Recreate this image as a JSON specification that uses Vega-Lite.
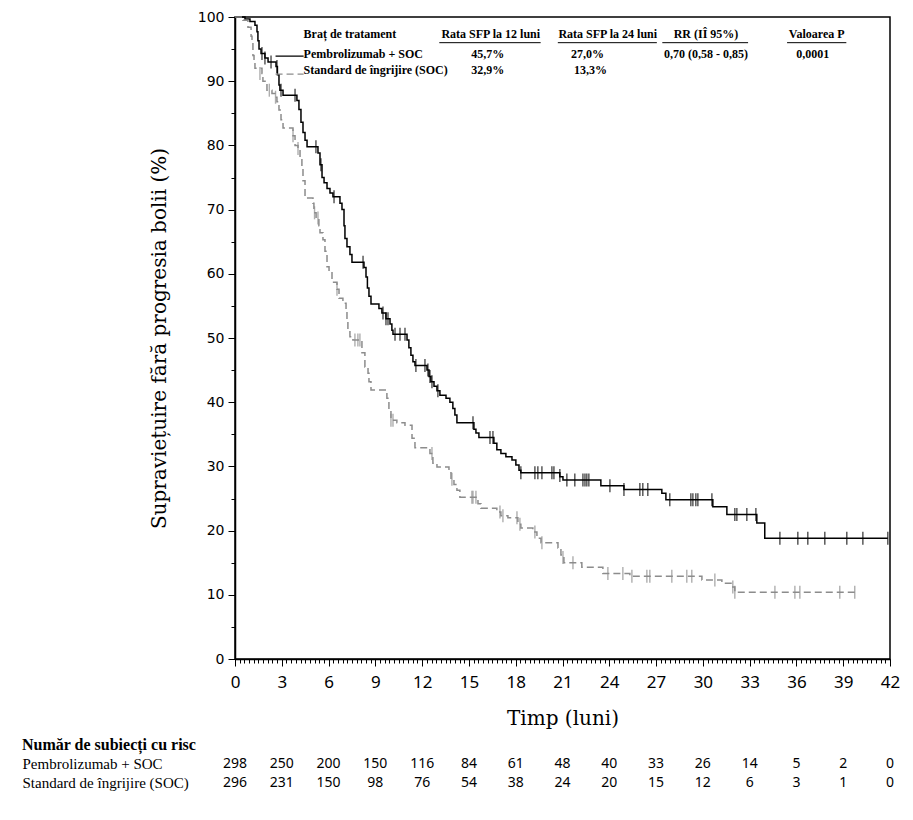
{
  "$schema": "https://vega.github.io/schema/vega-lite/v6.json",
  "background": "white",
  "padding": {"left": 22, "top": 9, "right": 12, "bottom": 10},
  "spacing": 8,
  "config": {"axis": {"labelColor": "black", "titleColor": "black", "domainColor": "black", "tickColor": "black"}},
  "resolve": {"scale": {"x": "independent", "y": "independent"}},
  "datasets": {
    "curves": [
      {"arm": "Pembrolizumab + SOC", "t": 0, "s": 100},
      {"arm": "Pembrolizumab + SOC", "t": 0.64, "s": 99.7},
      {"arm": "Pembrolizumab + SOC", "t": 0.96, "s": 99.3},
      {"arm": "Pembrolizumab + SOC", "t": 1.28, "s": 98.7},
      {"arm": "Pembrolizumab + SOC", "t": 1.41, "s": 97.7},
      {"arm": "Pembrolizumab + SOC", "t": 1.47, "s": 96.3},
      {"arm": "Pembrolizumab + SOC", "t": 1.54, "s": 95.0},
      {"arm": "Pembrolizumab + SOC", "t": 1.67, "s": 94.3},
      {"arm": "Pembrolizumab + SOC", "t": 1.92, "s": 93.6},
      {"arm": "Pembrolizumab + SOC", "t": 2.12, "s": 93.0},
      {"arm": "Pembrolizumab + SOC", "t": 2.63, "s": 92.3},
      {"arm": "Pembrolizumab + SOC", "t": 2.72, "s": 91.0},
      {"arm": "Pembrolizumab + SOC", "t": 2.82, "s": 89.4},
      {"arm": "Pembrolizumab + SOC", "t": 2.88, "s": 88.6},
      {"arm": "Pembrolizumab + SOC", "t": 3.08, "s": 87.8},
      {"arm": "Pembrolizumab + SOC", "t": 3.97, "s": 87.0},
      {"arm": "Pembrolizumab + SOC", "t": 4.10, "s": 85.6},
      {"arm": "Pembrolizumab + SOC", "t": 4.23, "s": 83.6},
      {"arm": "Pembrolizumab + SOC", "t": 4.36, "s": 82.0},
      {"arm": "Pembrolizumab + SOC", "t": 4.49, "s": 80.8},
      {"arm": "Pembrolizumab + SOC", "t": 4.62, "s": 79.8},
      {"arm": "Pembrolizumab + SOC", "t": 5.32, "s": 78.8},
      {"arm": "Pembrolizumab + SOC", "t": 5.45, "s": 77.0},
      {"arm": "Pembrolizumab + SOC", "t": 5.58, "s": 75.0},
      {"arm": "Pembrolizumab + SOC", "t": 5.71, "s": 74.2},
      {"arm": "Pembrolizumab + SOC", "t": 5.90, "s": 73.3},
      {"arm": "Pembrolizumab + SOC", "t": 6.09, "s": 72.6},
      {"arm": "Pembrolizumab + SOC", "t": 6.28, "s": 72.0},
      {"arm": "Pembrolizumab + SOC", "t": 6.73, "s": 71.0},
      {"arm": "Pembrolizumab + SOC", "t": 6.86, "s": 70.0},
      {"arm": "Pembrolizumab + SOC", "t": 6.99, "s": 67.5},
      {"arm": "Pembrolizumab + SOC", "t": 7.05, "s": 65.5},
      {"arm": "Pembrolizumab + SOC", "t": 7.18, "s": 64.2},
      {"arm": "Pembrolizumab + SOC", "t": 7.37, "s": 63.0},
      {"arm": "Pembrolizumab + SOC", "t": 7.50, "s": 61.8},
      {"arm": "Pembrolizumab + SOC", "t": 8.27, "s": 61.0},
      {"arm": "Pembrolizumab + SOC", "t": 8.40, "s": 59.5},
      {"arm": "Pembrolizumab + SOC", "t": 8.49, "s": 57.8},
      {"arm": "Pembrolizumab + SOC", "t": 8.59, "s": 56.5},
      {"arm": "Pembrolizumab + SOC", "t": 8.72, "s": 55.3},
      {"arm": "Pembrolizumab + SOC", "t": 9.23, "s": 54.6},
      {"arm": "Pembrolizumab + SOC", "t": 9.42, "s": 53.9},
      {"arm": "Pembrolizumab + SOC", "t": 9.68, "s": 53.0},
      {"arm": "Pembrolizumab + SOC", "t": 9.94, "s": 52.2},
      {"arm": "Pembrolizumab + SOC", "t": 10.06, "s": 51.2},
      {"arm": "Pembrolizumab + SOC", "t": 10.13, "s": 50.6},
      {"arm": "Pembrolizumab + SOC", "t": 11.03, "s": 49.7},
      {"arm": "Pembrolizumab + SOC", "t": 11.15, "s": 48.5},
      {"arm": "Pembrolizumab + SOC", "t": 11.28, "s": 47.3},
      {"arm": "Pembrolizumab + SOC", "t": 11.41, "s": 46.3},
      {"arm": "Pembrolizumab + SOC", "t": 11.54, "s": 45.7},
      {"arm": "Pembrolizumab + SOC", "t": 12.31, "s": 45.0},
      {"arm": "Pembrolizumab + SOC", "t": 12.44, "s": 44.0},
      {"arm": "Pembrolizumab + SOC", "t": 12.56, "s": 43.2},
      {"arm": "Pembrolizumab + SOC", "t": 12.76, "s": 42.5},
      {"arm": "Pembrolizumab + SOC", "t": 12.95, "s": 41.8},
      {"arm": "Pembrolizumab + SOC", "t": 13.14, "s": 41.1},
      {"arm": "Pembrolizumab + SOC", "t": 13.53, "s": 40.6},
      {"arm": "Pembrolizumab + SOC", "t": 13.78, "s": 40.0},
      {"arm": "Pembrolizumab + SOC", "t": 13.97, "s": 39.0},
      {"arm": "Pembrolizumab + SOC", "t": 14.10, "s": 38.0},
      {"arm": "Pembrolizumab + SOC", "t": 14.23, "s": 36.8},
      {"arm": "Pembrolizumab + SOC", "t": 15.32, "s": 35.8},
      {"arm": "Pembrolizumab + SOC", "t": 15.45, "s": 35.2},
      {"arm": "Pembrolizumab + SOC", "t": 15.64, "s": 34.5},
      {"arm": "Pembrolizumab + SOC", "t": 16.60, "s": 33.6},
      {"arm": "Pembrolizumab + SOC", "t": 16.79, "s": 32.6},
      {"arm": "Pembrolizumab + SOC", "t": 17.05, "s": 32.0},
      {"arm": "Pembrolizumab + SOC", "t": 17.37, "s": 31.5},
      {"arm": "Pembrolizumab + SOC", "t": 17.76, "s": 31.0},
      {"arm": "Pembrolizumab + SOC", "t": 18.01, "s": 30.2},
      {"arm": "Pembrolizumab + SOC", "t": 18.21, "s": 29.4},
      {"arm": "Pembrolizumab + SOC", "t": 18.33, "s": 29.0},
      {"arm": "Pembrolizumab + SOC", "t": 20.83, "s": 28.4},
      {"arm": "Pembrolizumab + SOC", "t": 21.03, "s": 27.9},
      {"arm": "Pembrolizumab + SOC", "t": 23.46, "s": 27.0},
      {"arm": "Pembrolizumab + SOC", "t": 24.94, "s": 26.4},
      {"arm": "Pembrolizumab + SOC", "t": 27.37, "s": 25.8},
      {"arm": "Pembrolizumab + SOC", "t": 27.63, "s": 24.8},
      {"arm": "Pembrolizumab + SOC", "t": 30.64, "s": 23.7},
      {"arm": "Pembrolizumab + SOC", "t": 31.54, "s": 22.5},
      {"arm": "Pembrolizumab + SOC", "t": 33.46, "s": 21.2},
      {"arm": "Pembrolizumab + SOC", "t": 33.97, "s": 18.8},
      {"arm": "Pembrolizumab + SOC", "t": 41.86, "s": 18.8},
      {"arm": "Standard de îngrijire (SOC)", "t": 0, "s": 100},
      {"arm": "Standard de îngrijire (SOC)", "t": 0.51, "s": 99.5},
      {"arm": "Standard de îngrijire (SOC)", "t": 0.83, "s": 98.4},
      {"arm": "Standard de îngrijire (SOC)", "t": 1.03, "s": 97.0},
      {"arm": "Standard de îngrijire (SOC)", "t": 1.09, "s": 96.0},
      {"arm": "Standard de îngrijire (SOC)", "t": 1.15, "s": 94.0},
      {"arm": "Standard de îngrijire (SOC)", "t": 1.22, "s": 93.0},
      {"arm": "Standard de îngrijire (SOC)", "t": 1.28, "s": 92.0},
      {"arm": "Standard de îngrijire (SOC)", "t": 1.73, "s": 91.2},
      {"arm": "Standard de îngrijire (SOC)", "t": 1.79, "s": 90.0},
      {"arm": "Standard de îngrijire (SOC)", "t": 2.05, "s": 88.6},
      {"arm": "Standard de îngrijire (SOC)", "t": 2.37, "s": 88.1},
      {"arm": "Standard de îngrijire (SOC)", "t": 2.56, "s": 87.5},
      {"arm": "Standard de îngrijire (SOC)", "t": 2.69, "s": 86.8},
      {"arm": "Standard de îngrijire (SOC)", "t": 2.82, "s": 85.5},
      {"arm": "Standard de îngrijire (SOC)", "t": 2.95, "s": 84.0},
      {"arm": "Standard de îngrijire (SOC)", "t": 3.08, "s": 82.7},
      {"arm": "Standard de îngrijire (SOC)", "t": 3.72, "s": 81.5},
      {"arm": "Standard de îngrijire (SOC)", "t": 3.85, "s": 80.0},
      {"arm": "Standard de îngrijire (SOC)", "t": 4.04, "s": 79.5},
      {"arm": "Standard de îngrijire (SOC)", "t": 4.17, "s": 78.0},
      {"arm": "Standard de îngrijire (SOC)", "t": 4.29, "s": 76.5},
      {"arm": "Standard de îngrijire (SOC)", "t": 4.36, "s": 74.5},
      {"arm": "Standard de îngrijire (SOC)", "t": 4.49, "s": 71.8},
      {"arm": "Standard de îngrijire (SOC)", "t": 5.0, "s": 71.0},
      {"arm": "Standard de îngrijire (SOC)", "t": 5.06, "s": 69.5},
      {"arm": "Standard de îngrijire (SOC)", "t": 5.2, "s": 68.7},
      {"arm": "Standard de îngrijire (SOC)", "t": 5.38, "s": 67.5},
      {"arm": "Standard de îngrijire (SOC)", "t": 5.45, "s": 66.4},
      {"arm": "Standard de îngrijire (SOC)", "t": 5.64, "s": 65.3},
      {"arm": "Standard de îngrijire (SOC)", "t": 5.77, "s": 63.5},
      {"arm": "Standard de îngrijire (SOC)", "t": 5.90, "s": 61.1},
      {"arm": "Standard de îngrijire (SOC)", "t": 6.03, "s": 60.3},
      {"arm": "Standard de îngrijire (SOC)", "t": 6.22, "s": 58.7},
      {"arm": "Standard de îngrijire (SOC)", "t": 6.54, "s": 57.6},
      {"arm": "Standard de îngrijire (SOC)", "t": 6.67, "s": 56.2},
      {"arm": "Standard de îngrijire (SOC)", "t": 6.92, "s": 55.4},
      {"arm": "Standard de îngrijire (SOC)", "t": 7.12, "s": 54.4},
      {"arm": "Standard de îngrijire (SOC)", "t": 7.18, "s": 52.8},
      {"arm": "Standard de îngrijire (SOC)", "t": 7.24, "s": 51.2},
      {"arm": "Standard de îngrijire (SOC)", "t": 7.37, "s": 50.2},
      {"arm": "Standard de îngrijire (SOC)", "t": 7.56, "s": 49.7},
      {"arm": "Standard de îngrijire (SOC)", "t": 8.14, "s": 47.7},
      {"arm": "Standard de îngrijire (SOC)", "t": 8.33, "s": 45.5},
      {"arm": "Standard de îngrijire (SOC)", "t": 8.53, "s": 44.5},
      {"arm": "Standard de îngrijire (SOC)", "t": 8.59, "s": 43.2},
      {"arm": "Standard de îngrijire (SOC)", "t": 8.72, "s": 41.9},
      {"arm": "Standard de îngrijire (SOC)", "t": 9.74, "s": 40.6},
      {"arm": "Standard de îngrijire (SOC)", "t": 9.87, "s": 38.8},
      {"arm": "Standard de îngrijire (SOC)", "t": 10.0, "s": 37.2},
      {"arm": "Standard de îngrijire (SOC)", "t": 10.38, "s": 36.8},
      {"arm": "Standard de îngrijire (SOC)", "t": 10.9, "s": 36.4},
      {"arm": "Standard de îngrijire (SOC)", "t": 11.35, "s": 34.4},
      {"arm": "Standard de îngrijire (SOC)", "t": 11.54, "s": 32.9},
      {"arm": "Standard de îngrijire (SOC)", "t": 12.5, "s": 32.0},
      {"arm": "Standard de îngrijire (SOC)", "t": 12.69, "s": 30.5},
      {"arm": "Standard de îngrijire (SOC)", "t": 12.95, "s": 29.9},
      {"arm": "Standard de îngrijire (SOC)", "t": 13.72, "s": 29.0},
      {"arm": "Standard de îngrijire (SOC)", "t": 13.85, "s": 28.0},
      {"arm": "Standard de îngrijire (SOC)", "t": 14.04, "s": 27.2},
      {"arm": "Standard de îngrijire (SOC)", "t": 14.23, "s": 26.3},
      {"arm": "Standard de îngrijire (SOC)", "t": 14.42, "s": 25.2},
      {"arm": "Standard de îngrijire (SOC)", "t": 15.58, "s": 24.2},
      {"arm": "Standard de îngrijire (SOC)", "t": 15.77, "s": 23.5},
      {"arm": "Standard de îngrijire (SOC)", "t": 16.79, "s": 22.9},
      {"arm": "Standard de îngrijire (SOC)", "t": 17.05, "s": 22.3},
      {"arm": "Standard de îngrijire (SOC)", "t": 17.5, "s": 22.0},
      {"arm": "Standard de îngrijire (SOC)", "t": 18.14, "s": 21.0},
      {"arm": "Standard de îngrijire (SOC)", "t": 18.33, "s": 20.4},
      {"arm": "Standard de îngrijire (SOC)", "t": 19.1, "s": 19.8},
      {"arm": "Standard de îngrijire (SOC)", "t": 19.36, "s": 18.8},
      {"arm": "Standard de îngrijire (SOC)", "t": 19.62, "s": 18.1},
      {"arm": "Standard de îngrijire (SOC)", "t": 20.71, "s": 17.3},
      {"arm": "Standard de îngrijire (SOC)", "t": 20.9, "s": 16.2},
      {"arm": "Standard de îngrijire (SOC)", "t": 21.09, "s": 15.0},
      {"arm": "Standard de îngrijire (SOC)", "t": 22.24, "s": 14.3},
      {"arm": "Standard de îngrijire (SOC)", "t": 23.59, "s": 13.3},
      {"arm": "Standard de îngrijire (SOC)", "t": 25.32, "s": 12.9},
      {"arm": "Standard de îngrijire (SOC)", "t": 29.94, "s": 12.3},
      {"arm": "Standard de îngrijire (SOC)", "t": 31.22, "s": 11.8},
      {"arm": "Standard de îngrijire (SOC)", "t": 31.92, "s": 11.2},
      {"arm": "Standard de îngrijire (SOC)", "t": 32.05, "s": 10.4},
      {"arm": "Standard de îngrijire (SOC)", "t": 39.74, "s": 10.4}
    ],
    "censors": [
      {"arm": "Pembrolizumab + SOC", "t": 1.73, "s": 94.3},
      {"arm": "Pembrolizumab + SOC", "t": 1.92, "s": 93.6},
      {"arm": "Pembrolizumab + SOC", "t": 2.31, "s": 93.0},
      {"arm": "Pembrolizumab + SOC", "t": 2.69, "s": 92.3},
      {"arm": "Pembrolizumab + SOC", "t": 2.95, "s": 88.6},
      {"arm": "Pembrolizumab + SOC", "t": 3.85, "s": 87.8},
      {"arm": "Pembrolizumab + SOC", "t": 5.19, "s": 79.8},
      {"arm": "Pembrolizumab + SOC", "t": 5.51, "s": 77.0},
      {"arm": "Pembrolizumab + SOC", "t": 6.35, "s": 72.0},
      {"arm": "Pembrolizumab + SOC", "t": 8.21, "s": 61.8},
      {"arm": "Pembrolizumab + SOC", "t": 9.49, "s": 53.9},
      {"arm": "Pembrolizumab + SOC", "t": 9.68, "s": 53.0},
      {"arm": "Pembrolizumab + SOC", "t": 9.81, "s": 53.0},
      {"arm": "Pembrolizumab + SOC", "t": 10.26, "s": 50.6},
      {"arm": "Pembrolizumab + SOC", "t": 10.58, "s": 50.6},
      {"arm": "Pembrolizumab + SOC", "t": 10.90, "s": 50.6},
      {"arm": "Pembrolizumab + SOC", "t": 11.6, "s": 45.7},
      {"arm": "Pembrolizumab + SOC", "t": 12.18, "s": 45.7},
      {"arm": "Pembrolizumab + SOC", "t": 12.37, "s": 45.0},
      {"arm": "Pembrolizumab + SOC", "t": 12.5, "s": 44.0},
      {"arm": "Pembrolizumab + SOC", "t": 12.63, "s": 43.2},
      {"arm": "Pembrolizumab + SOC", "t": 13.01, "s": 41.8},
      {"arm": "Pembrolizumab + SOC", "t": 15.26, "s": 36.8},
      {"arm": "Pembrolizumab + SOC", "t": 16.35, "s": 34.5},
      {"arm": "Pembrolizumab + SOC", "t": 16.54, "s": 34.5},
      {"arm": "Pembrolizumab + SOC", "t": 18.33, "s": 29.0},
      {"arm": "Pembrolizumab + SOC", "t": 19.23, "s": 29.0},
      {"arm": "Pembrolizumab + SOC", "t": 19.42, "s": 29.0},
      {"arm": "Pembrolizumab + SOC", "t": 19.68, "s": 29.0},
      {"arm": "Pembrolizumab + SOC", "t": 20.32, "s": 29.0},
      {"arm": "Pembrolizumab + SOC", "t": 20.45, "s": 29.0},
      {"arm": "Pembrolizumab + SOC", "t": 20.83, "s": 28.6},
      {"arm": "Pembrolizumab + SOC", "t": 21.28, "s": 27.9},
      {"arm": "Pembrolizumab + SOC", "t": 21.79, "s": 27.9},
      {"arm": "Pembrolizumab + SOC", "t": 22.31, "s": 27.9},
      {"arm": "Pembrolizumab + SOC", "t": 22.44, "s": 27.9},
      {"arm": "Pembrolizumab + SOC", "t": 22.56, "s": 27.9},
      {"arm": "Pembrolizumab + SOC", "t": 22.69, "s": 27.9},
      {"arm": "Pembrolizumab + SOC", "t": 24.04, "s": 27.0},
      {"arm": "Pembrolizumab + SOC", "t": 24.94, "s": 26.4},
      {"arm": "Pembrolizumab + SOC", "t": 25.96, "s": 26.4},
      {"arm": "Pembrolizumab + SOC", "t": 26.15, "s": 26.4},
      {"arm": "Pembrolizumab + SOC", "t": 26.47, "s": 26.4},
      {"arm": "Pembrolizumab + SOC", "t": 27.88, "s": 24.8},
      {"arm": "Pembrolizumab + SOC", "t": 29.23, "s": 24.8},
      {"arm": "Pembrolizumab + SOC", "t": 29.36, "s": 24.8},
      {"arm": "Pembrolizumab + SOC", "t": 29.55, "s": 24.8},
      {"arm": "Pembrolizumab + SOC", "t": 29.68, "s": 24.8},
      {"arm": "Pembrolizumab + SOC", "t": 30.58, "s": 24.8},
      {"arm": "Pembrolizumab + SOC", "t": 32.05, "s": 22.5},
      {"arm": "Pembrolizumab + SOC", "t": 32.18, "s": 22.5},
      {"arm": "Pembrolizumab + SOC", "t": 32.82, "s": 22.5},
      {"arm": "Pembrolizumab + SOC", "t": 33.4, "s": 22.5},
      {"arm": "Pembrolizumab + SOC", "t": 34.94, "s": 18.8},
      {"arm": "Pembrolizumab + SOC", "t": 36.09, "s": 18.8},
      {"arm": "Pembrolizumab + SOC", "t": 36.73, "s": 18.8},
      {"arm": "Pembrolizumab + SOC", "t": 37.82, "s": 18.8},
      {"arm": "Pembrolizumab + SOC", "t": 39.23, "s": 18.8},
      {"arm": "Pembrolizumab + SOC", "t": 40.26, "s": 18.8},
      {"arm": "Pembrolizumab + SOC", "t": 41.86, "s": 18.8},
      {"arm": "Standard de îngrijire (SOC)", "t": 1.6, "s": 91.2},
      {"arm": "Standard de îngrijire (SOC)", "t": 2.2, "s": 88.6},
      {"arm": "Standard de îngrijire (SOC)", "t": 2.6, "s": 87.5},
      {"arm": "Standard de îngrijire (SOC)", "t": 3.72, "s": 81.5},
      {"arm": "Standard de îngrijire (SOC)", "t": 4.04, "s": 79.5},
      {"arm": "Standard de îngrijire (SOC)", "t": 5.1, "s": 69.5},
      {"arm": "Standard de îngrijire (SOC)", "t": 5.32, "s": 68.7},
      {"arm": "Standard de îngrijire (SOC)", "t": 6.54, "s": 57.6},
      {"arm": "Standard de îngrijire (SOC)", "t": 7.69, "s": 49.7},
      {"arm": "Standard de îngrijire (SOC)", "t": 7.88, "s": 49.7},
      {"arm": "Standard de îngrijire (SOC)", "t": 8.01, "s": 49.7},
      {"arm": "Standard de îngrijire (SOC)", "t": 10.0, "s": 37.2},
      {"arm": "Standard de îngrijire (SOC)", "t": 10.13, "s": 37.2},
      {"arm": "Standard de îngrijire (SOC)", "t": 12.63, "s": 32.0},
      {"arm": "Standard de îngrijire (SOC)", "t": 13.91, "s": 28.0},
      {"arm": "Standard de îngrijire (SOC)", "t": 15.19, "s": 25.2},
      {"arm": "Standard de îngrijire (SOC)", "t": 15.26, "s": 25.2},
      {"arm": "Standard de îngrijire (SOC)", "t": 15.45, "s": 25.2},
      {"arm": "Standard de îngrijire (SOC)", "t": 16.99, "s": 22.9},
      {"arm": "Standard de îngrijire (SOC)", "t": 17.18, "s": 22.3},
      {"arm": "Standard de îngrijire (SOC)", "t": 18.08, "s": 22.0},
      {"arm": "Standard de îngrijire (SOC)", "t": 18.27, "s": 21.0},
      {"arm": "Standard de îngrijire (SOC)", "t": 19.23, "s": 19.8},
      {"arm": "Standard de îngrijire (SOC)", "t": 19.68, "s": 18.1},
      {"arm": "Standard de îngrijire (SOC)", "t": 21.03, "s": 15.8},
      {"arm": "Standard de îngrijire (SOC)", "t": 21.67, "s": 15.0},
      {"arm": "Standard de îngrijire (SOC)", "t": 23.91, "s": 13.3},
      {"arm": "Standard de îngrijire (SOC)", "t": 24.87, "s": 13.3},
      {"arm": "Standard de îngrijire (SOC)", "t": 25.45, "s": 12.9},
      {"arm": "Standard de îngrijire (SOC)", "t": 26.41, "s": 12.9},
      {"arm": "Standard de îngrijire (SOC)", "t": 26.6, "s": 12.9},
      {"arm": "Standard de îngrijire (SOC)", "t": 28.01, "s": 12.9},
      {"arm": "Standard de îngrijire (SOC)", "t": 28.97, "s": 12.9},
      {"arm": "Standard de îngrijire (SOC)", "t": 29.29, "s": 12.9},
      {"arm": "Standard de îngrijire (SOC)", "t": 30.77, "s": 12.3},
      {"arm": "Standard de îngrijire (SOC)", "t": 31.92, "s": 11.2},
      {"arm": "Standard de îngrijire (SOC)", "t": 32.05, "s": 10.4},
      {"arm": "Standard de îngrijire (SOC)", "t": 34.62, "s": 10.4},
      {"arm": "Standard de îngrijire (SOC)", "t": 35.9, "s": 10.4},
      {"arm": "Standard de îngrijire (SOC)", "t": 36.22, "s": 10.4},
      {"arm": "Standard de îngrijire (SOC)", "t": 38.78, "s": 10.4},
      {"arm": "Standard de îngrijire (SOC)", "t": 39.74, "s": 10.4}
    ],
    "keyLines": [
      {"arm": "Pembrolizumab + SOC", "t": 2.6, "t2": 4.4, "s": 93.9},
      {"arm": "Standard de îngrijire (SOC)", "t": 2.6, "t2": 4.4, "s": 91.1}
    ],
    "tableNames": [
      {"t": 4.4, "s": 97.3, "label": "Braț de tratament"},
      {"t": 4.4, "s": 94.3, "label": "Pembrolizumab + SOC"},
      {"t": 4.4, "s": 91.7, "label": "Standard de îngrijire (SOC)"}
    ],
    "tableCells": [
      {"t": 16.4, "s": 97.3, "label": "Rata SFP la 12 luni"},
      {"t": 23.9, "s": 97.3, "label": "Rata SFP la 24 luni"},
      {"t": 30.2, "s": 97.3, "label": "RR (IÎ 95%)"},
      {"t": 37.3, "s": 97.3, "label": "Valoarea P"},
      {"t": 16.2, "s": 94.3, "label": "45,7%"},
      {"t": 22.6, "s": 94.3, "label": "27,0%"},
      {"t": 30.2, "s": 94.3, "label": "0,70 (0,58 - 0,85)"},
      {"t": 37.05, "s": 94.3, "label": "0,0001"},
      {"t": 16.2, "s": 91.7, "label": "32,9%"},
      {"t": 22.8, "s": 91.7, "label": "13,3%"}
    ],
    "tableRules": [
      {"t": 13.1, "t2": 19.6, "s": 96.0},
      {"t": 20.7, "t2": 27.05, "s": 96.0},
      {"t": 27.4, "t2": 32.9, "s": 96.0},
      {"t": 35.4, "t2": 39.2, "s": 96.0}
    ],
    "risk": [
      {"arm": "Pembrolizumab + SOC", "t": 0, "n": 298},
      {"arm": "Pembrolizumab + SOC", "t": 3, "n": 250},
      {"arm": "Pembrolizumab + SOC", "t": 6, "n": 200},
      {"arm": "Pembrolizumab + SOC", "t": 9, "n": 150},
      {"arm": "Pembrolizumab + SOC", "t": 12, "n": 116},
      {"arm": "Pembrolizumab + SOC", "t": 15, "n": 84},
      {"arm": "Pembrolizumab + SOC", "t": 18, "n": 61},
      {"arm": "Pembrolizumab + SOC", "t": 21, "n": 48},
      {"arm": "Pembrolizumab + SOC", "t": 24, "n": 40},
      {"arm": "Pembrolizumab + SOC", "t": 27, "n": 33},
      {"arm": "Pembrolizumab + SOC", "t": 30, "n": 26},
      {"arm": "Pembrolizumab + SOC", "t": 33, "n": 14},
      {"arm": "Pembrolizumab + SOC", "t": 36, "n": 5},
      {"arm": "Pembrolizumab + SOC", "t": 39, "n": 2},
      {"arm": "Pembrolizumab + SOC", "t": 42, "n": 0},
      {"arm": "Standard de îngrijire (SOC)", "t": 0, "n": 296},
      {"arm": "Standard de îngrijire (SOC)", "t": 3, "n": 231},
      {"arm": "Standard de îngrijire (SOC)", "t": 6, "n": 150},
      {"arm": "Standard de îngrijire (SOC)", "t": 9, "n": 98},
      {"arm": "Standard de îngrijire (SOC)", "t": 12, "n": 76},
      {"arm": "Standard de îngrijire (SOC)", "t": 15, "n": 54},
      {"arm": "Standard de îngrijire (SOC)", "t": 18, "n": 38},
      {"arm": "Standard de îngrijire (SOC)", "t": 21, "n": 24},
      {"arm": "Standard de îngrijire (SOC)", "t": 24, "n": 20},
      {"arm": "Standard de îngrijire (SOC)", "t": 27, "n": 15},
      {"arm": "Standard de îngrijire (SOC)", "t": 30, "n": 12},
      {"arm": "Standard de îngrijire (SOC)", "t": 33, "n": 6},
      {"arm": "Standard de îngrijire (SOC)", "t": 36, "n": 3},
      {"arm": "Standard de îngrijire (SOC)", "t": 39, "n": 1},
      {"arm": "Standard de îngrijire (SOC)", "t": 42, "n": 0}
    ]
  },
  "vconcat": [
    {
      "width": 655,
      "height": 642,
      "view": {"stroke": "black", "strokeWidth": 1.5},
      "resolve": {"axis": {"x": "independent"}},
      "encoding": {
        "y": {
          "field": "s", "type": "quantitative",
          "scale": {"domain": [0, 100], "nice": false},
          "axis": {
            "title": "Supraviețuire fără progresia bolii (%)", "titleFont": "DejaVu Serif", "titleFontSize": 20, "titleFontWeight": "normal", "titlePadding": 28,
            "values": [0,5,10,15,20,25,30,35,40,45,50,55,60,65,70,75,80,85,90,95,100],
            "labelExpr": "datum.value % 10 === 0 ? datum.label : ''",
            "labelFont": "DejaVu Sans", "labelFontSize": 14, "labelPadding": 4,
            "labelOverlap": false, "labelFlush": false,
            "tickSize": {"condition": {"test": "datum.value % 10 === 0", "value": 7}, "value": 4},
            "tickWidth": 1, "domainWidth": 1.5, "grid": false
          }
        }
      },
      "layer": [
        {
          "encoding": {
            "x": {
              "field": "t", "type": "quantitative",
              "scale": {"domain": [0, 42], "nice": false},
              "axis": {
                "orient": "bottom",
                "title": "Timp (luni)", "titleFont": "DejaVu Serif", "titleFontSize": 20, "titleFontWeight": "normal", "titlePadding": 18,
                "values": [0, 3, 6, 9, 12, 15, 18, 21, 24, 27, 30, 33, 36, 39, 42],
                "labelFont": "Noto Sans", "labelFontSize": 17, "labelPadding": 8,
                "labelOverlap": false, "labelFlush": false,
                "tickSize": 7, "tickWidth": 1, "domainWidth": 1.5, "grid": false
              }
            }
          },
          "layer": [
            {
              "data": {"name": "curves"},
              "mark": {"type": "line", "interpolate": "step-after", "strokeWidth": 1.5},
              "encoding": {
                "color": {"field": "arm", "type": "nominal", "scale": {"domain": ["Pembrolizumab + SOC", "Standard de îngrijire (SOC)"], "range": ["#000000", "#8c8c8c"]}, "legend": null},
                "strokeDash": {"field": "arm", "type": "nominal", "scale": {"domain": ["Pembrolizumab + SOC", "Standard de îngrijire (SOC)"], "range": [[1, 0], [7, 4]]}, "legend": null}
              }
            },
            {
              "data": {"name": "censors"},
              "mark": {"type": "tick", "orient": "vertical", "size": 13, "thickness": 1.4},
              "encoding": {
                "color": {"field": "arm", "type": "nominal", "legend": null}
              }
            },
            {
              "data": {"name": "tableNames"},
              "mark": {"type": "text", "align": "left", "baseline": "middle", "font": "Liberation Serif", "fontSize": 12, "fontWeight": "bold", "color": "black"},
              "encoding": {"text": {"field": "label"}}
            },
            {
              "data": {"name": "tableCells"},
              "mark": {"type": "text", "align": "center", "baseline": "middle", "font": "Liberation Serif", "fontSize": 12, "fontWeight": "bold", "color": "black"},
              "encoding": {"text": {"field": "label"}}
            },
            {
              "data": {"name": "tableRules"},
              "mark": {"type": "rule", "color": "black", "strokeWidth": 1},
              "encoding": {"x2": {"field": "t2"}}
            }
          ]
        },
        {
          "data": {"name": "keyLines"},
          "mark": {"type": "rule", "strokeWidth": 1.3},
          "encoding": {
            "x": {
              "field": "t", "type": "quantitative",
              "axis": {
                "orient": "bottom", "title": null, "labels": false, "domain": false,
                "values": [0,0.3,0.6,0.9,1.2,1.5,1.8,2.1,2.4,2.7,3,3.3,3.6,3.9,4.2,4.5,4.8,5.1,5.4,5.7,6,6.3,6.6,6.9,7.2,7.5,7.8,8.1,8.4,8.7,9,9.3,9.6,9.9,10.2,10.5,10.8,11.1,11.4,11.7,12,12.3,12.6,12.9,13.2,13.5,13.8,14.1,14.4,14.7,15,15.3,15.6,15.9,16.2,16.5,16.8,17.1,17.4,17.7,18,18.3,18.6,18.9,19.2,19.5,19.8,20.1,20.4,20.7,21,21.3,21.6,21.9,22.2,22.5,22.8,23.1,23.4,23.7,24,24.3,24.6,24.9,25.2,25.5,25.8,26.1,26.4,26.7,27,27.3,27.6,27.9,28.2,28.5,28.8,29.1,29.4,29.7,30,30.3,30.6,30.9,31.2,31.5,31.8,32.1,32.4,32.7,33,33.3,33.6,33.9,34.2,34.5,34.8,35.1,35.4,35.7,36,36.3,36.6,36.9,37.2,37.5,37.8,38.1,38.4,38.7,39,39.3,39.6,39.9,40.2,40.5,40.8,41.1,41.4,41.7,42],
                "tickSize": 4, "tickWidth": 1, "grid": false
              }
            },
            "x2": {"field": "t2"},
            "color": {"field": "arm", "type": "nominal", "legend": null},
            "strokeDash": {"field": "arm", "type": "nominal", "legend": null}
          }
        }
      ]
    },
    {
      "width": 655,
      "height": 38,
      "view": {"stroke": null},
      "title": {"text": "Număr de subiecți cu risc", "anchor": "start", "frame": "bounds", "font": "Liberation Serif", "fontSize": 16, "fontWeight": "bold", "color": "black", "offset": 1},
      "data": {"name": "risk"},
      "mark": {"type": "text", "font": "Noto Sans", "fontSize": 14, "color": "black", "baseline": "middle"},
      "encoding": {
        "x": {"field": "t", "type": "quantitative", "scale": {"domain": [0, 42], "nice": false}, "axis": null},
        "y": {
          "field": "arm", "type": "nominal",
          "sort": ["Pembrolizumab + SOC", "Standard de îngrijire (SOC)"],
          "scale": {"type": "point", "padding": 0.5},
          "axis": {"title": null, "domain": false, "ticks": false, "tickSize": 0, "labelAlign": "left", "labelPadding": 213, "labelFont": "Liberation Serif", "labelFontSize": 15, "labelLimit": 0}
        },
        "text": {"field": "n", "type": "quantitative"}
      }
    }
  ]
}
